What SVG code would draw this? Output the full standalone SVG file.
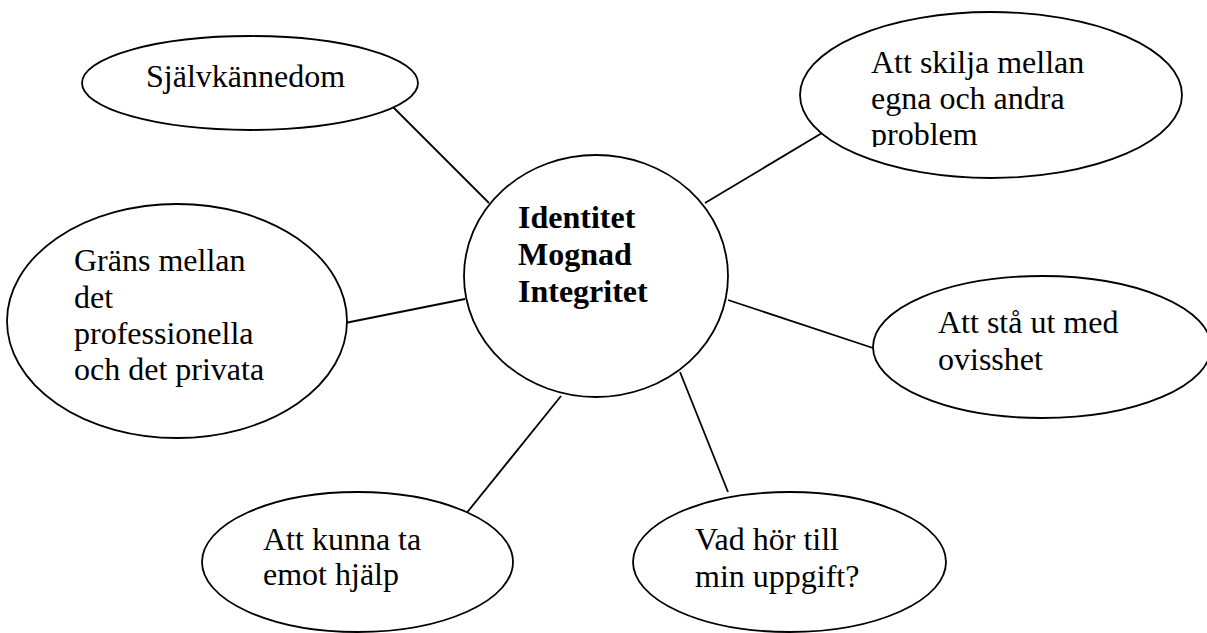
<svg xmlns="http://www.w3.org/2000/svg" width="1207" height="633" viewBox="0 0 1207 633">
<style>
.sh{fill:#fff;stroke:#000;stroke-width:1.8}
.ln{stroke:#000;stroke-width:1.8;fill:none}
.t{font-family:"Liberation Serif","Times New Roman",serif;font-size:32px;fill:#000}
.b{font-weight:bold}
</style>
<defs>
<clipPath id="clipTR"><rect x="800" y="10" width="400" height="137"/></clipPath>
</defs>
<rect width="1207" height="633" fill="#fff"/>
<g id="connectors">
<line class="ln" x1="393" y1="107" x2="489" y2="203"/>
<line class="ln" x1="705" y1="203" x2="822" y2="133"/>
<line class="ln" x1="345" y1="323" x2="465" y2="299"/>
<line class="ln" x1="728" y1="300" x2="873" y2="348"/>
<line class="ln" x1="561" y1="396" x2="465" y2="515"/>
<line class="ln" x1="680" y1="372" x2="728" y2="492"/>
</g>
<g id="center">
<ellipse class="sh" cx="596" cy="276" rx="132" ry="121"/>
<text class="t b" x="518" y="228">Identitet</text>
<text class="t b" x="518" y="265">Mognad</text>
<text class="t b" x="518" y="302">Integritet</text>
</g>
<g id="sjalvkannedom">
<ellipse class="sh" cx="250" cy="83" rx="168" ry="47"/>
<text class="t" x="146" y="87">Självkännedom</text>
</g>
<g id="skilja">
<ellipse class="sh" cx="991" cy="95" rx="191" ry="83"/>
<g clip-path="url(#clipTR)">
<text class="t" x="871" y="73">Att skilja mellan</text>
<text class="t" x="871" y="109">egna och andra</text>
<text class="t" x="871" y="145">problem</text>
</g>
</g>
<g id="grans">
<ellipse class="sh" cx="177" cy="321" rx="170" ry="117"/>
<text class="t" x="74" y="271">Gräns mellan</text>
<text class="t" x="74" y="308">det</text>
<text class="t" x="74" y="344">professionella</text>
<text class="t" x="74" y="380">och det privata</text>
</g>
<g id="ovisshet">
<ellipse class="sh" cx="1042" cy="347" rx="169" ry="71"/>
<text class="t" x="938" y="333">Att stå ut med</text>
<text class="t" x="938" y="370">ovisshet</text>
</g>
<g id="hjalp">
<ellipse class="sh" cx="357.5" cy="562" rx="155.5" ry="70"/>
<text class="t" x="263" y="550">Att kunna ta</text>
<text class="t" x="263" y="585">emot hjälp</text>
</g>
<g id="uppgift">
<ellipse class="sh" cx="789.5" cy="562" rx="156.5" ry="70"/>
<text class="t" x="695" y="550">Vad hör till</text>
<text class="t" x="695" y="587">min uppgift?</text>
</g>
</svg>
